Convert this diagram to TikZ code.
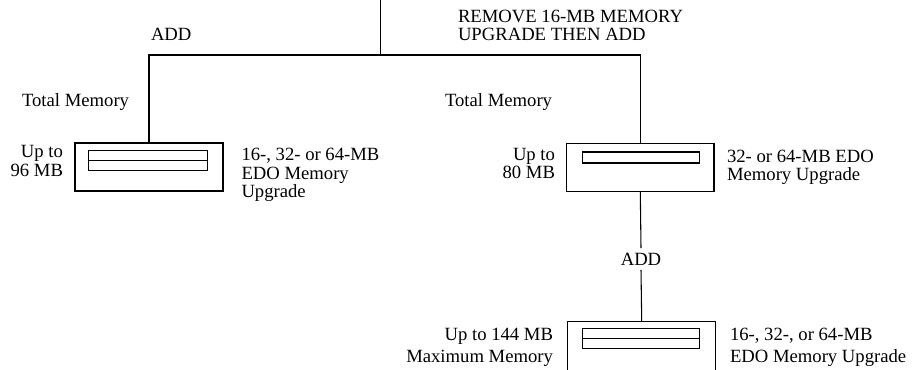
\documentclass[tikz,border=0pt]{standalone}
\usepackage{fontspec}
\setmainfont{Liberation Serif}
\usetikzlibrary{positioning}

\begin{document}
\begin{tikzpicture}[x=0.75pt, y=-0.75pt, line width=0.8pt,
    lbl/.style={inner sep=0pt, outer sep=0pt,
                font=\fontsize{14}{13.9}\selectfont},
    membox/.style={draw, minimum width=111pt, minimum height=36pt,
                   inner sep=0pt},
    slot/.style={draw, minimum width=88pt, minimum height=7.5pt,
                 inner sep=0pt},
  ]
  \useasboundingbox (0,0) rectangle (923,369);
  \clip (0,0) rectangle (923,369);

  % the three memory boards
  \node[membox] (memA) at (149,167) {};
  \node[slot, minimum width=89.25pt] (slotA1) at (147.8,155.3) {};
  \node[slot, minimum width=89.25pt] (slotA2) at (147.8,165.3) {};

  \node[membox, minimum width=110.5pt] (memB) at (640.3,167.5) {};
  \node[slot, minimum height=8.25pt] (slotB) at (640.8,157.5) {};

  \node[membox, minimum height=39pt] (memC) at (641.7,347.7) {};
  \node[slot] (slotC1) at (641,333.3) {};
  \node[slot, minimum height=8pt] (slotC2) at (641,343.6) {};

  % labels
  \node[lbl, anchor=base west] (addA) at (151,40.7) {ADD};
  \node[lbl, anchor=north west, align=left] (remove) at (458,10)
    {REMOVE 16-MB MEMORY\\UPGRADE THEN ADD};
  \node[lbl, anchor=base west] (totalA) at (22,106.5) {Total Memory};
  \node[lbl, anchor=base west] (totalB) at (445,106) {Total Memory};

  \node[lbl, anchor=north east, align=right] (sizeA) at (63,145.7)
    {Up to\\96 MB};
  \node[lbl, anchor=north west, align=left] (kindA) at (241.5,148.3)
    {16-, 32- or 64-MB\\EDO Memory\\Upgrade};
  \node[lbl, anchor=north east, align=right] (sizeB) at (555,148)
    {Up to\\80 MB};
  \node[lbl, anchor=north west, align=left] (kindB) at (727,150)
    {32- or 64-MB EDO\\Memory Upgrade};

  \node[lbl, inner ysep=3.5pt] (addC) at (641,259) {ADD};
  \node[lbl, anchor=north east, align=right] (sizeC) at (553,328)
    {Up to 144 MB\\[2.5pt]Maximum Memory};
  \node[lbl, anchor=north west, align=left] (kindC) at (730,328)
    {16-, 32-, or 64-MB\\[2.5pt]EDO Memory Upgrade};

  % connectors
  \coordinate (top) at (380.7,0);
  \coordinate (split) at (380.7,55);
  \draw (top) -- (split);
  \draw (memA.north) -- (memA.north |- split) -- (memB.north |- split)
    -- (memB.north);
  \draw (memB.south) -- (addC.north);
  \draw (addC.south) -- (memC.north);
\end{tikzpicture}
\end{document}
